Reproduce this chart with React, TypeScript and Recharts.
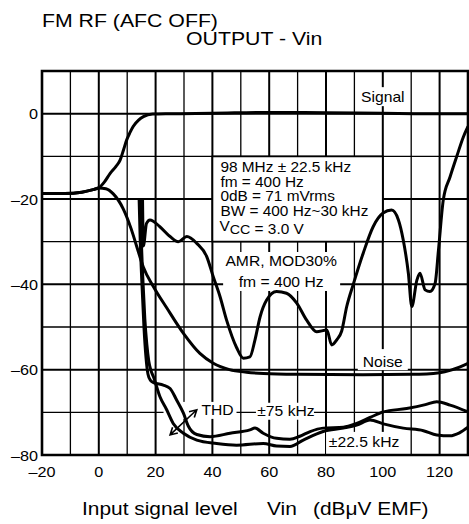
import React from "react";
import {
  LineChart,
  Line,
  XAxis,
  YAxis,
  ReferenceLine,
  ReferenceArea,
  ReferenceDot,
} from "recharts";

const FONT = '"Liberation Sans", Arial, Helvetica, sans-serif';
const SX = 1.12; // the scanned lettering is a bit wider than Arial

type Pt = [number, number];

const xTicks = [-20, 0, 20, 40, 60, 80, 100, 120];
const yTicks = [-80, -60, -40, -20, 0];
const xGrid = [-10, 0, 10, 20, 30, 40, 50, 60, 70, 80, 90, 100, 110, 120];
const yGrid = [-70, -60, -50, -40, -30, -20, -10, 0];

const signalPts: Pt[] = [
  [-20, -18.7], [-12, -18.7], [-6, -18.4], [-2, -17.8], [0, -17.4], [2, -16], [4, -14],
  [6, -12.4], [7.5, -10.9], [8.7, -8.5], [9.8, -6.2], [11, -4.4], [12.1, -3.0], [14, -1.5],
  [15.7, -0.7], [19, -0.1], [25, 0], [40, 0.1], [60, 0.3], [80, 0.2], [100, 0.1], [115, 0], [130, 0],
];

const noisePts: Pt[] = [
  [-20, -18.7], [-12, -18.7], [-6, -18.4], [-2, -17.8], [0, -17.4], [2.5, -17.6], [5.1, -18.8],
  [8.6, -22.3], [11.4, -27], [13.3, -31], [15.7, -36], [19.2, -40.5], [23.9, -45.5], [29.8, -51.5],
  [35.6, -56.2], [40.3, -58.5], [46, -60], [52, -60.6], [58, -60.9], [70, -61.1], [93, -61.2],
  [110, -61.1], [120, -60.7], [124, -60.1], [127, -59.4], [130, -58.5],
];

const amrPts: Pt[] = [
  [15.4, -20.2], [15.7, -31], [16.8, -25.7], [18, -24.9], [21.5, -26.5], [25.1, -28.8], [28, -30],
  [31, -28.8], [34.5, -30.4], [38, -33.5], [40.3, -38.2], [42.7, -42.9], [45, -48.4], [48.5, -54.8],
  [50.9, -57.3], [53.2, -57], [55, -53], [56.8, -47.6], [59.1, -43.7], [62.6, -41.7], [66.1, -42.1],
  [69.7, -44.4], [73.2, -48.4], [76.7, -51.1], [80.3, -50.7], [82, -54.2], [83.8, -53], [85.5, -51],
  [87.3, -45.2], [89.6, -40], [93.1, -32.7], [96.6, -26.5], [100.1, -23.3], [103.1, -22.6],
  [105.5, -24.9], [107.2, -29.6], [109, -37.4], [110.2, -45.2], [112, -39], [113.1, -37.4],
  [114.9, -41.3], [116.6, -41.7], [118.4, -39.8], [119.6, -32], [121.3, -20.2], [123.7, -14.8],
  [126, -10.1], [128.4, -5.4], [130, -3],
];

const thd75Pts: Pt[] = [
  [14.2, -20], [14.6, -30], [15.2, -40], [15.9, -50], [16.6, -57], [17.3, -61], [18.2, -62.5],
  [19.5, -63.1], [22.7, -63.6], [25.1, -64.4], [27.4, -67.1], [29.8, -70.2], [31.5, -73.2],
  [34.5, -75.2], [39.2, -75.7], [46.2, -74.9], [53.2, -74.1], [55, -73.7], [57.9, -74.9],
  [62.6, -76.1], [67.3, -76.3], [70.8, -75.6], [74.4, -74.5], [79, -73.7], [86.1, -73.5],
  [90.8, -72.6], [95.5, -71.2], [100.2, -69.9], [108.4, -69.1], [115, -68.2], [119, -67.5],
  [123.7, -68.3], [130, -69.9],
];

const thd225Pts: Pt[] = [
  [14.6, -20], [15, -30], [15.6, -40], [16.2, -48], [16.9, -54], [17.6, -58], [18.4, -60.3],
  [19.2, -61.6], [21.5, -66.3], [23.9, -69.4], [26.2, -72.6], [29.8, -74.9], [34.5, -76.5],
  [41.5, -77.3], [48.5, -77.7], [57.9, -77.3], [62.6, -77.9], [67.3, -78], [72, -76.5],
  [79, -74.5], [86.1, -73.7], [90.8, -73], [95.5, -71.8], [100.2, -72.7], [107.2, -73.7],
  [114.3, -74.3], [119, -75.3], [123.7, -75.5], [127, -74.8], [130, -73.5],
];

const conditionLines = ["98 MHz \u00b1 22.5 kHz", "fm = 400 Hz", "0dB = 71 mVrms", "BW = 400 Hz~30 kHz"];
const amrLines = ["AMR, MOD30%", "fm = 400 Hz"];
const thdArrow = [{ x: 25.1, y: -75.3 }, { x: 34.5, y: -69.4 }];
const titleLines = ["FM RF (AFC OFF)", "OUTPUT - Vin"];
const xTitle = ["Input signal level", "Vin", "(dB\u03bcV EMF)"];

const rows = (pts: Pt[]) => pts.map(([x, y]) => ({ x, y }));
const fmt = (v: number) => (v < 0 ? "\u2013" + Math.abs(v) : String(v));

const XTick = ({ x, y, payload }: any) => (
  <text
    transform={`translate(${x},${y + 22}) scale(1.08,1)`}
    textAnchor="middle"
    fontSize={15}
    fontFamily={FONT}
    fill="#000"
  >
    {fmt(payload.value)}
  </text>
);

const YTick = ({ x, y, payload }: any) => (
  <text
    transform={`translate(${x - 4},${y + 5.5}) scale(1.08,1)`}
    textAnchor="end"
    fontSize={15}
    fontFamily={FONT}
    fill="#000"
  >
    {fmt(payload.value)}
  </text>
);

// text centred on (cx, cy) baseline, with a white patch behind it
const Tag = ({ cx, cy, lines, gap = 21, bg }: any) => {
  if (cx == null || cy == null) return null;
  const [bx, by, bw, bh] = bg;
  return (
    <g>
      <rect x={cx + bx} y={cy + by} width={bw} height={bh} fill="#fff" />
      {lines.map((t: string, i: number) => (
        <text
          key={i}
          transform={`translate(${cx},${cy + i * gap}) scale(${SX},1)`}
          textAnchor="middle"
          fontSize={14}
          fontFamily={FONT}
          fill="#000"
        >
          {t}
        </text>
      ))}
    </g>
  );
};

const CondText = ({ cx, cy }: any) => {
  if (cx == null || cy == null) return null;
  const base = [15.5, 30.5, 45, 59.5];
  return (
    <g fontFamily={FONT} fontSize={14} fill="#000">
      {conditionLines.map((t, i) => (
        <text key={i} transform={`translate(${cx + 8},${cy + base[i]}) scale(1.1,1)`}>
          {t}
        </text>
      ))}
      <text transform={`translate(${cx + 7},${cy + 74.5}) scale(1.1,1)`}>
        V<tspan dy={3.5} fontSize={13}>CC</tspan>
        <tspan> = 3.0 V</tspan>
      </text>
    </g>
  );
};

const Arrow = ({ x1, y1, x2, y2 }: any) => {
  if (x1 == null) return null;
  const a = Math.atan2(y2 - y1, x2 - x1);
  const L = 8;
  const w = 0.5;
  const head = (x: number, y: number, dir: number) => {
    const p1 = [x - dir * L * Math.cos(a - w), y - dir * L * Math.sin(a - w)];
    const p2 = [x - dir * L * Math.cos(a + w), y - dir * L * Math.sin(a + w)];
    return `M${p1[0]},${p1[1]}L${x},${y}L${p2[0]},${p2[1]}`;
  };
  return (
    <path
      d={`M${x1},${y1}L${x2},${y2}${head(x2, y2, 1)}${head(x1, y1, -1)}`}
      stroke="#000"
      strokeWidth={1.6}
      fill="none"
    />
  );
};

export default function App() {
  return (
    <div style={{ position: "absolute", left: 0, top: 0, width: 469, height: 524, background: "#fff" }}>
      <svg
        width={469}
        height={524}
        style={{ position: "absolute", left: 0, top: 0, pointerEvents: "none" }}
        fontFamily={FONT}
        fill="#000"
      >
        <text transform="translate(42,27) scale(1.15,1)" fontSize={18.5}>{titleLines[0]}</text>
        <text transform="translate(186,45) scale(1.15,1)" fontSize={18.5}>{titleLines[1]}</text>
        <text transform="translate(82,515) scale(1.1,1)" fontSize={19}>{xTitle[0]}</text>
        <text transform="translate(267,515) scale(1.1,1)" fontSize={19}>{xTitle[1]}</text>
        <text transform="translate(313,515) scale(1.1,1)" fontSize={19}>{xTitle[2]}</text>
      </svg>
      <div style={{ position: "absolute", left: 0, top: 0 }}>
        <LineChart width={469} height={524} margin={{ top: 71, right: 1, bottom: 39, left: 0 }}>
          <XAxis
            type="number"
            dataKey="x"
            domain={[-20, 130]}
            ticks={xTicks}
            allowDataOverflow
            axisLine={false}
            tickLine={false}
            tickSize={0}
            tickMargin={0}
            height={30}
            tick={<XTick />}
            interval={0}
          />
          <YAxis
            type="number"
            dataKey="y"
            domain={[-80, 10]}
            ticks={yTicks}
            allowDataOverflow
            axisLine={false}
            tickLine={false}
            tickSize={0}
            tickMargin={0}
            width={42}
            tick={<YTick />}
            interval={0}
          />
          {xGrid.map((v) => (
            <ReferenceLine key={"vx" + v} x={v} stroke="#000" strokeWidth={v % 20 === 0 ? 2 : 1.3} zIndex={10} />
          ))}
          {yGrid.map((v) => (
            <ReferenceLine key={"hy" + v} y={v} stroke="#000" strokeWidth={v % 20 === 0 ? 2 : 1.3} zIndex={10} />
          ))}
          <ReferenceArea
            x1={40}
            x2={100}
            y1={-30}
            y2={-10}
            fill="#fff"
            fillOpacity={1}
            stroke="#000"
            strokeWidth={1.8}
            zIndex={20}
          />
          <ReferenceDot x={40} y={-10} r={1} zIndex={30} shape={(p: any) => <CondText {...p} />} />
          <ReferenceDot
            x={100}
            y={2.7}
            r={1}
            zIndex={30}
            shape={(p: any) => <Tag {...p} lines={["Signal"]} bg={[-25, -15, 50, 19]} />}
          />
          <ReferenceDot
            x={64.2}
            y={-35.7}
            r={1}
            zIndex={30}
            shape={(p: any) => <Tag {...p} lines={amrLines} bg={[-58, -14, 117, 39]} />}
          />
          <ReferenceDot
            x={100}
            y={-59.4}
            r={1}
            zIndex={30}
            shape={(p: any) => <Tag {...p} lines={["Noise"]} bg={[-25, -18, 50, 21]} />}
          />
          <ReferenceDot
            x={41.8}
            y={-70.6}
            r={1}
            zIndex={30}
            shape={(p: any) => <Tag {...p} lines={["THD"]} bg={[-54, -13, 73, 17]} />}
          />
          <ReferenceDot
            x={65.9}
            y={-70.8}
            r={1}
            zIndex={30}
            shape={(p: any) => <Tag {...p} lines={["\u00b175 kHz"]} bg={[-30, -13, 58, 17]} />}
          />
          <ReferenceDot
            x={93.4}
            y={-78.1}
            r={1}
            zIndex={30}
            shape={(p: any) => <Tag {...p} lines={["\u00b122.5 kHz"]} bg={[-38, -15, 76, 23]} />}
          />
          <Line data={rows(signalPts)} dataKey="y" type="monotone" stroke="#000" strokeWidth={3} dot={false} isAnimationActive={false} />
          <Line data={rows(noisePts)} dataKey="y" type="monotone" stroke="#000" strokeWidth={3} dot={false} isAnimationActive={false} />
          <Line data={rows(amrPts)} dataKey="y" type="monotone" stroke="#000" strokeWidth={3} dot={false} isAnimationActive={false} />
          <Line data={rows(thd75Pts)} dataKey="y" type="monotone" stroke="#000" strokeWidth={3} dot={false} isAnimationActive={false} />
          <Line data={rows(thd225Pts)} dataKey="y" type="monotone" stroke="#000" strokeWidth={3} dot={false} isAnimationActive={false} />
          <ReferenceLine segment={thdArrow} zIndex={450} shape={(p: any) => <Arrow {...p} />} />
          <ReferenceArea x1={-20} x2={130} y1={-80} y2={10} fill="none" stroke="#000" strokeWidth={2.6} zIndex={460} />
        </LineChart>
      </div>
    </div>
  );
}
